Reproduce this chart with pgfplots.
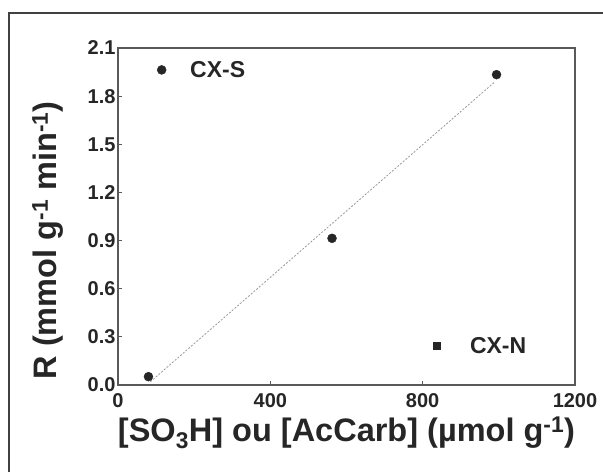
\documentclass[border=0pt]{standalone}
\usepackage{fontspec}
\setmainfont{Liberation Sans}
\usepackage{pgfplots}
\pgfplotsset{compat=1.18}

\begin{document}
\begin{tikzpicture}[x=1pt,y=1pt]
\useasboundingbox (0,0) rectangle (603,472);
% cropped outer frame (only left and top edges show)
\draw[line width=1.6pt, black!75] (9,0) -- (9,459) -- (603,459);

\begin{axis}[
    at={(118pt,87pt)}, anchor=south west,
    scale only axis, width=457pt, height=337pt,
    xmin=0, xmax=1200, ymin=0, ymax=2.1,
    xtick={0,400,800,1200},
    ytick={0,0.3,0.6,0.9,1.2,1.5,1.8,2.1},
    /pgf/number format/assume math mode=true,
    xticklabel style={/pgf/number format/fixed, /pgf/number format/1000 sep={}, yshift=-5pt},
    yticklabel style={/pgf/number format/fixed, /pgf/number format/fixed zerofill,
                      /pgf/number format/precision=1, xshift=1pt},
    tick label style={font=\fontsize{20}{20}\selectfont\bfseries, text=black!85},
    axis line style={black!65, line width=1.2pt},
    tick style={black!65, line width=1pt},
    major tick length=4pt,
    tick align=inside, xtick pos=bottom, ytick pos=left,
    xlabel={[SO\textsubscript{3}H] ou [AcCarb] (µmol g\textsuperscript{-1})},
    ylabel={R (mmol g\textsuperscript{-1} min\textsuperscript{-1})},
    label style={font=\fontsize{32.5}{32.5}\selectfont\bfseries, text=black!85},
    xlabel style={at={(axis description cs:0.5,-0.1424)}, anchor=center},
    ylabel style={at={(axis description cs:-0.1532,0.429)}, anchor=center},
    legend style={draw=none, fill=none, inner sep=0pt,
                  at={(axis description cs:0.0853,0.935)}, anchor=west,
                  font=\fontsize{23}{23}\selectfont\bfseries, text=black!85,
                  nodes={inner sep=0pt}, column sep=24pt},
    legend image code/.code={\draw[#1] plot coordinates {(0pt,0pt)};},
]
% linear fit
\addplot[gray!80, line width=0.8pt, dash pattern=on 2pt off 1.6pt, forget plot] coordinates {
    (85,0.02) (990,1.89)
};
\addplot[only marks, mark=*, mark size=4.5pt, black!85] coordinates {
    (80,0.052) (562,0.914) (994,1.934)
};
\addlegendentry{CX-S}
\end{axis}

\begin{axis}[
    at={(118pt,87pt)}, anchor=south west,
    scale only axis, width=457pt, height=337pt,
    xmin=0, xmax=1200, ymin=0, ymax=2.1,
    hide axis,
    legend style={draw=none, fill=none, inner sep=0pt,
                  at={(axis description cs:0.690,0.1157)}, anchor=west,
                  font=\fontsize{23}{23}\selectfont\bfseries, text=black!85,
                  nodes={inner sep=0pt}, column sep=29.5pt},
    legend image code/.code={\draw[#1] plot coordinates {(0pt,0pt)};},
]
\addlegendimage{only marks, mark=square*, mark size=3.5pt, black!85}
\addlegendentry{CX-N}
\end{axis}
\end{tikzpicture}
\end{document}
